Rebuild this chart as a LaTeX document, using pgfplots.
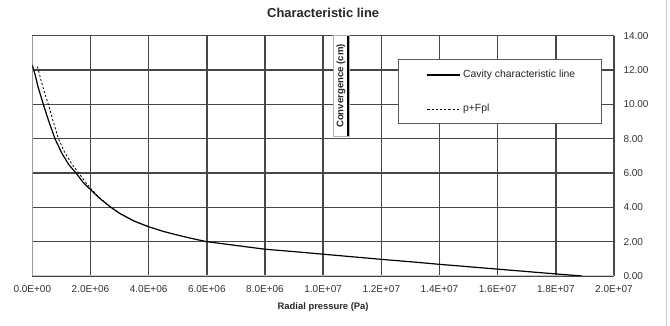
\documentclass[border=0pt]{standalone}
\usepackage{pgfplots}
\pgfplotsset{compat=1.18}
\usepackage{fontspec}
\setmainfont{Liberation Sans}
\pgfplotstableread{
x y
0 12.3
1.0e5 11.7
2.0e5 11.0
3.8e5 10.0
5.5e5 9.1
7.8e5 8.0
1.0e6 7.2
1.25e6 6.5
1.53e6 5.94
1.75e6 5.45
2.02e6 5.0
2.3e6 4.55
2.67e6 4.04
3.0e6 3.65
3.5e6 3.2
4.0e6 2.87
4.5e6 2.6
5.0e6 2.38
5.5e6 2.18
6.0e6 2.0
7.0e6 1.78
8.0e6 1.56
9.0e6 1.42
1.0e7 1.27
1.1e7 1.12
1.2e7 0.97
1.3e7 0.83
1.4e7 0.68
1.5e7 0.54
1.6e7 0.40
1.7e7 0.26
1.8e7 0.12
1.89e7 0.0
}\cavity
\pgfplotstableread{
x y
1.8e5 12.2
3.0e5 11.4
4.2e5 10.7
5.5e5 10.0
7.2e5 9.0
9.0e5 8.0
1.1e6 7.25
1.35e6 6.55
1.62e6 5.94
1.85e6 5.42
2.05e6 5.02
2.3e6 4.58
2.67e6 4.04
3.0e6 3.65
3.5e6 3.2
4.0e6 2.87
}\pfpl
\begin{document}
\begin{tikzpicture}[x=1pt,y=1pt]
\begin{axis}[
  at={(32.3pt,50pt)}, anchor=south west,
  scale only axis, width=581.7pt, height=240.3pt,
  xmin=0, xmax=2e7, ymin=0, ymax=14,
  xtick={0,2e6,4e6,6e6,8e6,1e7,1.2e7,1.4e7,1.6e7,1.8e7,2e7},
  xticklabels={0.0E+00,2.0E+06,4.0E+06,6.0E+06,8.0E+06,1.0E+07,1.2E+07,1.4E+07,1.6E+07,1.8E+07,2.0E+07},
  ytick={0,2,4,6,8,10,12,14},
  yticklabels={0.00,2.00,4.00,6.00,8.00,10.00,12.00,14.00},
  yticklabel pos=right,
  scaled x ticks=false,
  grid=major,
  major grid style={draw=black!72, line width=1.5pt},
  axis line style={draw=none},
  major tick length=0pt,
  tick style={draw=none},
  xticklabel style={font=\fontsize{10}{11}\selectfont, text=black!80, anchor=center, yshift=-13.3pt},
  yticklabel style={font=\fontsize{10}{11}\selectfont, text=black!80, anchor=west, inner sep=0pt, xshift=9.3pt},
  every axis title shift=0pt,
  title={Characteristic line},
  title style={font=\bfseries\fontsize{12.9}{14}\selectfont, text=black!85, at={(0.5,1)}, anchor=center, yshift=22.4pt},
  xlabel={Radial pressure (Pa)},
  xlabel style={font=\bfseries\fontsize{9.4}{11}\selectfont, text=black!85, at={(0.5,0)}, anchor=center, yshift=-31pt},
  ylabel={Convergence (cm)},
  ylabel style={font=\bfseries\fontsize{9.6}{11}\selectfont, text=black!85, at={(0.5307,0.791)}, anchor=center},
  legend cell align=left,
  legend image code/.code={\draw[#1] (0pt,0pt) -- (33pt,0pt);},
  legend style={at={(0.678,0.7657)}, anchor=west, draw=none, fill=none, inner sep=0pt,
    row sep=24.3pt, column sep=2pt,
    nodes={inner sep=0pt, anchor=west, text height=7.5pt, text depth=2.2pt, font=\fontsize{10.4}{12}\selectfont, text=black!85}},
]
\draw[black!22, line width=1.2pt] (rel axis cs:0,1) -- (rel axis cs:0,0) -- (rel axis cs:1,0);
\filldraw[fill=white, draw=black!30, line width=0.6pt] (rel axis cs:0.5175,0.5826) rectangle (rel axis cs:0.545,1);
\draw[black, line width=2pt] (rel axis cs:0.5433,0.5826) -- (rel axis cs:0.5433,1);
\filldraw[fill=white, draw=black!65, line width=0.9pt] (rel axis cs:0.630,0.6355) rectangle (rel axis cs:0.979,0.902);
\addplot[black, line width=1.2pt] table[x=x,y=y] {\cavity};
\addlegendentry{Cavity characteristic line}
\addplot[black, line width=0.8pt, dash pattern=on 2.2pt off 2pt] table[x=x,y=y] {\pfpl};
\addlegendentry{p+Fpl}
\end{axis}
\draw[black!20, line width=1pt] (666.5pt,0pt) -- (666.5pt,326pt);
\pgfresetboundingbox
\path (0pt,0pt) rectangle (670pt,326pt);
\end{tikzpicture}
\end{document}
